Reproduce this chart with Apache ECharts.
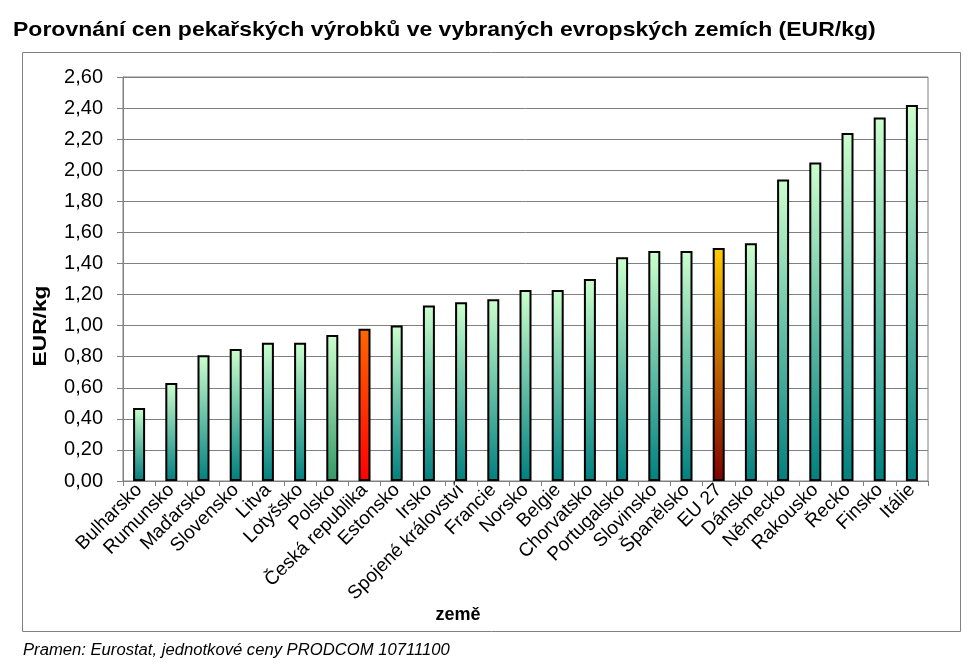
<!DOCTYPE html>
<html>
<head>
<meta charset="utf-8">
<script src="https://cdn.jsdelivr.net/npm/echarts@6/dist/echarts.min.js"></script>
<style>
html,body{margin:0;padding:0;background:#fff;}
#chart{width:980px;height:670px;}
</style>
</head>
<body>
<div id="chart"></div>
<script>
var categories = ["Bulharsko","Rumunsko","Maďarsko","Slovensko","Litva","Lotyšsko","Polsko","Česká republika","Estonsko","Irsko","Spojené království","Francie","Norsko","Belgie","Chorvatsko","Portugalsko","Slovinsko","Španělsko","EU 27","Dánsko","Německo","Rakousko","Řecko","Finsko","Itálie"];
var values = [0.47,0.63,0.81,0.85,0.89,0.89,0.94,0.98,1.00,1.13,1.15,1.17,1.23,1.23,1.30,1.44,1.48,1.48,1.50,1.53,1.94,2.05,2.24,2.34,2.42];
var yTicks = [0,0.2,0.4,0.6,0.8,1.0,1.2,1.4,1.6,1.8,2.0,2.2,2.4,2.6];
var titleText = "Porovnání cen pekařských výrobků ve vybraných evropských zemích (EUR/kg)";
var sourceText = "Pramen: Eurostat, jednotkové ceny PRODCOM 10711100";
var yName = "EUR/kg";
var xName = "země";

var FONT = "Liberation Sans, Arial, sans-serif";

function grad(top, bottom) {
  return new echarts.graphic.LinearGradient(0, 0, 0, 1, [
    {offset: 0, color: top},
    {offset: 1, color: bottom}
  ]);
}
var specialColors = {
  "Polsko": ["#CCFFCC", "#339966"],
  "Česká republika": ["#FF6600", "#FF0000"],
  "EU 27": ["#FFCC00", "#800000"]
};
var barData = values.map(function (v, i) {
  var c = specialColors[categories[i]] || ["#CCFFCC", "#008080"];
  return {value: v, itemStyle: {color: grad(c[0], c[1])}};
});

var chart = echarts.init(document.getElementById('chart'), null, {renderer: 'canvas'});
chart.setOption({
  animation: false,
  backgroundColor: '#ffffff',
  grid: {left: 123, right: 52, top: 77, bottom: 189, containLabel: false,
         show: true, borderColor: '#808080', borderWidth: 1},
  xAxis: {
    type: 'category',
    data: categories,
    axisLine: {lineStyle: {color: '#808080', width: 1}},
    axisTick: {show: true, alignWithLabel: false, length: 5, lineStyle: {color: '#808080'}},
    axisLabel: {rotate: 45, interval: 0, fontFamily: FONT, fontSize: 19, color: '#000', margin: 6},
    splitLine: {show: false}
  },
  yAxis: {
    type: 'value',
    min: yTicks[0], max: yTicks[yTicks.length - 1], interval: 0.2,
    axisLine: {show: true, lineStyle: {color: '#808080', width: 1}},
    axisTick: {show: true, length: 6, inside: false, lineStyle: {color: '#808080'}},
    axisLabel: {
      fontFamily: FONT, fontSize: 20, color: '#000', margin: 20,
      formatter: function (v) { return v.toFixed(2).replace('.', ','); }
    },
    splitLine: {show: true, lineStyle: {color: '#808080', width: 1}}
  },
  series: [{
    type: 'bar',
    data: barData,
    barWidth: 12,
    itemStyle: {borderColor: '#000', borderWidth: 2}
  }],
  graphic: [
    {type: 'rect', shape: {x: 22.5, y: 52.5, width: 938, height: 579},
     style: {fill: 'none', stroke: '#808080', lineWidth: 1}, z: -10, silent: true},
    {type: 'text', x: 13, y: 30, scaleX: 1.095,
     style: {text: titleText, fontFamily: FONT, fontSize: 21, fontWeight: 'bold', fill: '#000',
             textAlign: 'left', textVerticalAlign: 'middle'}},
    {type: 'text', x: 41, y: 326, rotation: Math.PI / 2, scaleX: 1.2,
     style: {text: yName, fontFamily: FONT, fontSize: 19, fontWeight: 'bold', fill: '#000',
             textAlign: 'center', textVerticalAlign: 'middle'}},
    {type: 'text', x: 458, y: 615,
     style: {text: xName, fontFamily: FONT, fontSize: 18, fontWeight: 'bold', fill: '#000',
             textAlign: 'center', textVerticalAlign: 'middle'}},
    {type: 'text', x: 23, y: 651, scaleX: 1.04,
     style: {text: sourceText, fontFamily: FONT, fontSize: 16, fontStyle: 'italic', fill: '#000',
             textAlign: 'left', textVerticalAlign: 'middle'}}
  ]
});
</script>
</body>
</html>
